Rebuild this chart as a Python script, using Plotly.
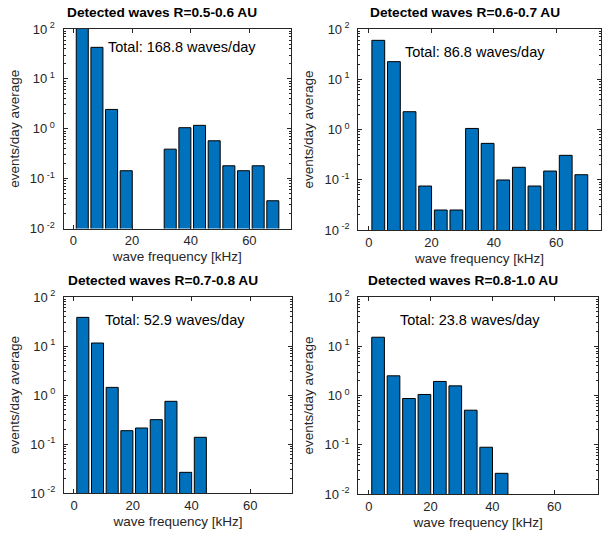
import plotly.graph_objects as go

freq_centers = [3, 8, 13, 18, 23, 28, 33, 38, 43, 48, 53, 58, 63, 68]
rate_05_06 = [119.6, 42.9, 2.44, 0.144, None, None, 0.39, 1.05, 1.17, 0.574, 0.181, 0.144, 0.181, 0.036]
rate_06_07 = [59.5, 22.4, 2.26, 0.075, 0.025, 0.025, 1.05, 0.53, 0.099, 0.177, 0.075, 0.149, 0.306, 0.126]
rate_07_08 = [38.4, 11.5, 1.43, 0.187, 0.212, 0.314, 0.743, 0.0264, 0.137, None, None, None, None, None]
rate_08_10 = [15.25, 2.51, 0.869, 1.05, 1.93, 1.57, 0.503, 0.089, 0.0263, None, None, None, None, None]
titles = ["Detected waves R=0.5-0.6 AU", "Detected waves R=0.6-0.7 AU",
          "Detected waves R=0.7-0.8 AU", "Detected waves R=0.8-1.0 AU"]
totals = ["Total: 168.8 waves/day", "Total: 86.8 waves/day",
          "Total: 52.9 waves/day", "Total: 23.8 waves/day"]
x_ticks = [0, 20, 40, 60]
y_ticks = [0.01, 0.1, 1, 10, 100]
y_ticktext = ["10<sup> -2</sup>", "10<sup> -1</sup>", "10<sup> 0</sup>", "10<sup> 1</sup>", "10<sup> 2</sup>"]

series = [rate_05_06, rate_06_07, rate_07_08, rate_08_10]

W, H = 608, 536
# pixel boxes: left, right, top, bottom
boxes = [(63.5, 291, 29, 228.5), (358.3, 600.7, 29, 230),
         (64, 292, 297, 493), (358.3, 598, 297, 494)]
text_pos = [(11.0, 1.64), (11.0, 1.54), (10.0, 1.53), (9.4, 1.53)]

FONT = "Liberation Sans, Arial, Helvetica, sans-serif"
TXT = "#262626"

fig = go.Figure()
layout = dict(width=W, height=H, margin=dict(l=0, r=0, t=0, b=0),
              template="none",
              paper_bgcolor="white", plot_bgcolor="white", showlegend=False,
              font=dict(family=FONT, color=TXT, size=12))
annotations = []
for i, (vals, (l, r, t, b)) in enumerate(zip(series, boxes)):
    n = "" if i == 0 else str(i + 1)
    fig.add_trace(go.Bar(x=freq_centers, y=vals, width=4.1,
                         marker=dict(color="#0072BD", line=dict(color="black", width=1)),
                         xaxis="x" + n, yaxis="y" + n))
    layout["xaxis" + n] = dict(domain=[l / W, r / W], range=[-3.4, 74.2], anchor="y" + n,
                               automargin=False,
                               tickvals=x_ticks, ticks="inside", ticklen=4, tickcolor=TXT,
                               showline=True, linecolor=TXT, linewidth=1, mirror="ticks",
                               showgrid=False, zeroline=False,
                               tickfont=dict(size=13, color=TXT, family=FONT),
                               title=dict(text="wave frequency [kHz]", standoff=4,
                                          font=dict(size=13.5, color=TXT, family=FONT)))
    layout["yaxis" + n] = dict(domain=[1 - b / H, 1 - t / H], type="log", range=[-2, 2],
                               anchor="x" + n, automargin=False,
                               tickvals=y_ticks, ticktext=y_ticktext,
                               ticks="inside", ticklen=4, tickcolor=TXT,
                               ticklabelstandoff=5,
                               minor=dict(ticks="inside", ticklen=2, tickcolor=TXT, dtick="D1", showgrid=False),
                               showline=True, linecolor=TXT, linewidth=1, mirror="ticks",
                               showgrid=False, zeroline=False,
                               tickfont=dict(size=13, color=TXT, family=FONT),
                               title=dict(text="events/day average", standoff=7,
                                          font=dict(size=13.5, color=TXT, family=FONT)))
    annotations.append(dict(text="<b>" + titles[i] + "</b>", xref="paper", yref="paper",
                            x=((l + r) / 2 - 15) / W, y=1 - (t - 7) / H, xanchor="center", yanchor="bottom",
                            showarrow=False, font=dict(size=13.7, color="black", family=FONT)))
    annotations.append(dict(text=totals[i], xref="x" + n, yref="y" + n,
                            x=text_pos[i][0], y=text_pos[i][1], xanchor="left", yanchor="middle",
                            showarrow=False, font=dict(size=14.5, color="black", family=FONT)))
layout["annotations"] = annotations
fig.update_layout(**layout)
fig.write_html("out.html", config={"displayModeBar": False},
               post_script="document.body.style.margin='0';")
